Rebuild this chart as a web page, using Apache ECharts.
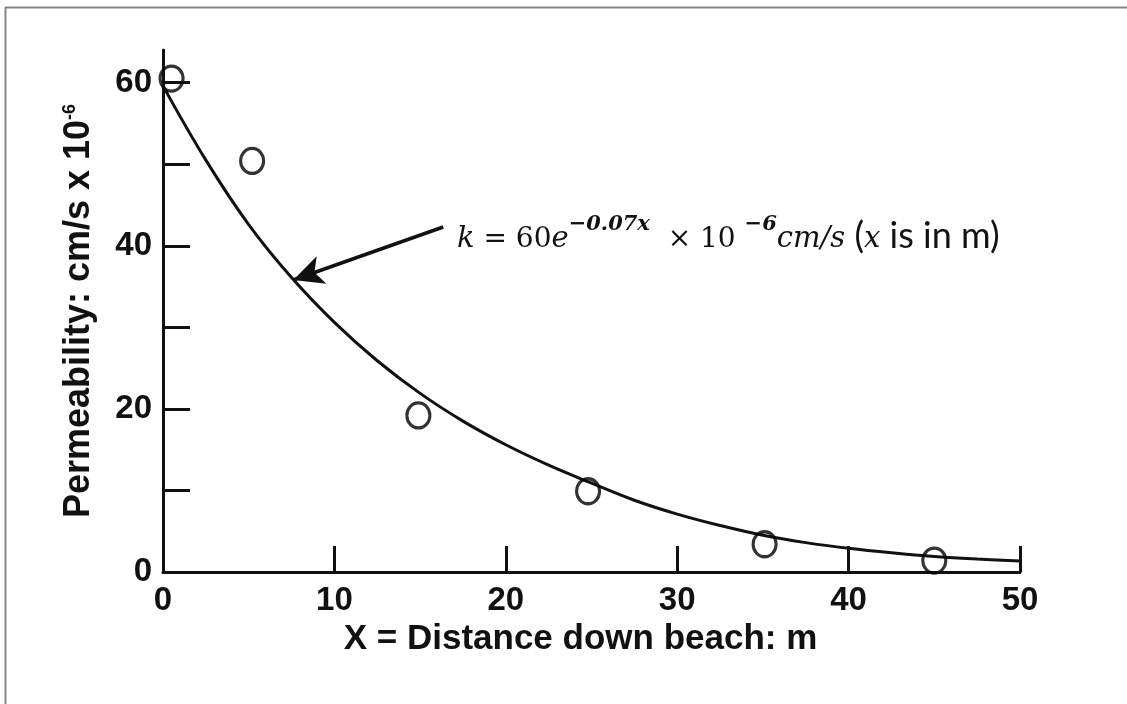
<!DOCTYPE html>
<html>
<head>
<meta charset="utf-8">
<script src="https://cdn.jsdelivr.net/npm/echarts@6/dist/echarts.min.js"></script>
<style>
html,body{margin:0;padding:0;background:#fff;}
#chart{width:1127px;height:704px;}
</style>
</head>
<body>
<div id="chart"></div>
<script>
// Observed permeability (circles)
const obsX = [0.5, 5.2, 14.9, 24.8, 35.1, 45.0];
const obsY = [60.5, 50.4, 19.2, 9.9, 3.4, 1.4];
// Fitted curve
const fitX = [0, 2.5, 5, 7.5, 10, 12.5, 15, 17.5, 20, 22.5, 25, 27.5, 30, 32.5, 35, 37.5, 40, 42.5, 45, 47.5, 50];
const fitY = [59.6, 50.5, 42.6, 36.1, 30.6, 25.9, 21.9, 18.5, 15.6, 13.1, 10.9, 8.8, 7.1, 5.7, 4.5, 3.6, 2.9, 2.35, 1.9, 1.6, 1.35];
// Tick labels
const xLabelValues = [0, 10, 20, 30, 40, 50];
const xTickValues = [10, 20, 30, 40, 50];
const yLabelValues = [0, 20, 40, 60];
const yTickValues = [10, 20, 30, 40, 50, 60];
// Annotation arrow (data coordinates: tail, tip)
const arrowTail = [16.35, 42.3];
const arrowTip = [7.6, 35.8];

const chart = echarts.init(document.getElementById('chart'), null, {renderer: 'canvas'});
const ink = '#111';
const axisFont = 'Liberation Sans, Arial, sans-serif';
const serif = 'DejaVu Serif, Liberation Serif, serif';

chart.setOption({
  animation: false,
  backgroundColor: '#fff',
  grid: {left: 163, right: 107, top: 50, bottom: 132, containLabel: false},
  xAxis: {
    type: 'value', min: 0, max: 50,
    name: 'X = Distance down beach: m',
    nameLocation: 'middle', nameGap: 46,
    nameTextStyle: {fontFamily: axisFont, fontWeight: 'bold', fontSize: 35, color: ink, padding: [0, 22, 0, 0]},
    axisLine: {show: true, lineStyle: {color: ink, width: 3}},
    axisTick: {show: true, inside: true, length: 26, lineStyle: {color: ink, width: 3}, customValues: xTickValues},
    axisLabel: {show: true, margin: 12, fontFamily: axisFont, fontWeight: 'bold', fontSize: 33, color: ink, customValues: xLabelValues},
    splitLine: {show: false}
  },
  yAxis: {
    type: 'value', min: 0, max: 64,
    name: 'Permeability: cm/s x 10{sup|-6}',
    nameLocation: 'middle', nameGap: 66, nameRotate: 90,
    nameTextStyle: {
      fontFamily: axisFont, fontWeight: 'bold', fontSize: 36, color: ink,
      rich: {sup: {fontFamily: axisFont, fontWeight: 'bold', fontSize: 18, color: ink, verticalAlign: 'top', lineHeight: 18}}
    },
    axisLine: {show: true, lineStyle: {color: ink, width: 3}},
    axisTick: {show: true, inside: true, length: 27, lineStyle: {color: ink, width: 3}, customValues: yTickValues},
    axisLabel: {show: true, margin: 11, fontFamily: axisFont, fontWeight: 'bold', fontSize: 33, color: ink, customValues: yLabelValues},
    splitLine: {show: false}
  },
  series: [
    {
      type: 'line', name: 'fit',
      data: fitX.map((x, i) => [x, fitY[i]]),
      smooth: 0.4, showSymbol: false, symbol: 'none',
      lineStyle: {color: ink, width: 3},
      silent: true, z: 2,
      markLine: {
        silent: true, animation: false,
        symbol: ['none', 'arrow'], symbolSize: [22, 30],
        label: {show: false},
        lineStyle: {color: ink, width: 3.5, type: 'solid'},
        emphasis: {disabled: true},
        data: [[{coord: arrowTail}, {coord: arrowTip}]]
      }
    },
    {
      type: 'scatter', name: 'observed',
      data: obsX.map((x, i) => [x, obsY[i]]),
      symbol: 'circle', symbolSize: [23, 25],
      itemStyle: {color: 'rgba(0,0,0,0)', borderColor: '#000', borderWidth: 3.2},
      silent: true, z: 3
    }
  ],
  graphic: [
    {type: 'line', shape: {x1: 5, y1: 7.5, x2: 1127, y2: 7.5}, style: {stroke: '#868686', lineWidth: 2}, silent: true},
    {type: 'line', shape: {x1: 5.5, y1: 7, x2: 5.5, y2: 704}, style: {stroke: '#868686', lineWidth: 2}, silent: true},
    {
      type: 'text', left: 457, top: 214, silent: true,
      style: {
        text: '{it|k}{up| = 60}{it|e}{sup|−0.07x}{up|  × 10 }{sup|−6}{it|cm/s}{sans| (}{it|x}{sans| is in m)}',
        rich: {
          it: {fontFamily: serif, fontStyle: 'italic', fontSize: 29, fill: ink, lineHeight: 40, verticalAlign: 'bottom'},
          up: {fontFamily: serif, fontSize: 28, fill: ink, lineHeight: 40, verticalAlign: 'bottom'},
          sup: {fontFamily: serif, fontStyle: 'italic', fontWeight: 'bold', fontSize: 21, fill: ink, lineHeight: 22, verticalAlign: 'top'},
          sans: {fontFamily: 'Lato, Open Sans, sans-serif', fontSize: 36, fill: ink, lineHeight: 40, verticalAlign: 'bottom'}
        }
      }
    }
  ]
});
</script>
</body>
</html>
